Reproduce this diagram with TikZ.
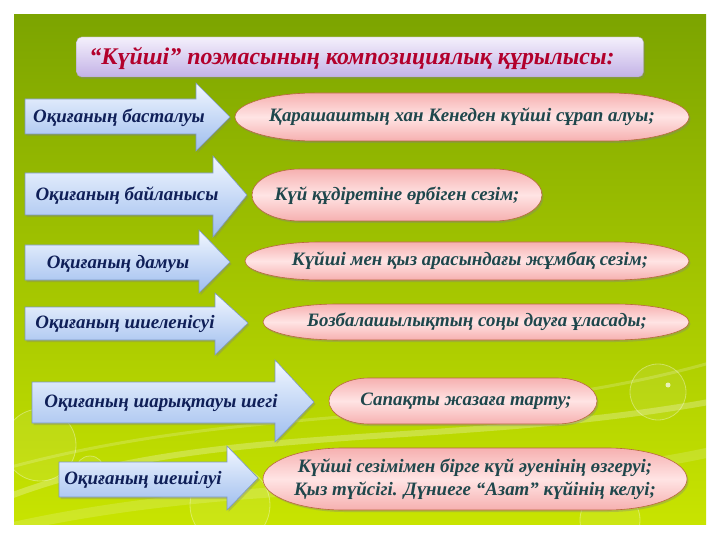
\documentclass[tikz,border=0pt]{standalone}
\usepackage{fontspec}
\setmainfont{Liberation Serif}
\usetikzlibrary{shadows}
\definecolor{bgtop}{HTML}{7CA400}
\definecolor{bgbot}{HTML}{C8E400}
\definecolor{arrtop}{HTML}{F2F7FF}
\definecolor{arrbot}{HTML}{9EBDEE}
\definecolor{arrline}{HTML}{7C98C4}
\definecolor{arrink}{HTML}{0F1F58}
\definecolor{ovedge}{HTML}{F6B0B0}
\definecolor{ovmid}{HTML}{FFE4E4}
\definecolor{ovline}{HTML}{B8683E}
\definecolor{ovink}{HTML}{1F474C}
\definecolor{ttltop}{HTML}{F4F0FC}
\definecolor{ttlbot}{HTML}{C3B2E6}
\definecolor{ttlink}{HTML}{B2002C}
% centre x, centre y, half width, half height, end radius
\newcommand\ovalbox[5]{%
  \draw[oval] ({#1-#3+#5},{#2-#4}) -- ({#1+#3-#5},{#2-#4})
    arc[start angle=-90, end angle=90, x radius=#5, y radius=#4]
    -- ({#1-#3+#5},{#2+#4})
    arc[start angle=90, end angle=270, x radius=#5, y radius=#4] -- cycle;}
\begin{document}
\begin{tikzpicture}[x=1bp, y=-1bp,
  shd/.style={drop shadow={opacity=.35, shadow xshift=1.5bp, shadow yshift=-2bp}},
  arr/.style={draw=arrline, line width=.6bp, top color=arrtop, bottom color=arrbot, shd},
  arrtxt/.style={font=\bfseries\itshape\fontsize{19}{22}\selectfont, text=arrink},
  oval/.style={draw=ovline, line width=.6bp, top color=ovedge, bottom color=ovedge, middle color=ovmid, shd},
  ovtxt/.style={font=\bfseries\itshape\fontsize{19}{23}\selectfont, text=ovink, align=center},
  bubble/.style={draw=white, draw opacity=.35, fill=white, fill opacity=.08, line width=.8bp}]
\useasboundingbox (0,0) rectangle (720,540);
\fill[white] (0,0) rectangle (720,540);
\shade[top color=bgtop, bottom color=bgbot] (14,15) rectangle (706,524);
\begin{scope}
  \clip (14,15) rectangle (706,524);
  \draw[white, opacity=.25, line width=6bp] (0,500) .. controls (200,420) and (450,450) .. (720,400);
  \draw[white, opacity=.18, line width=3bp] (0,470) .. controls (250,400) and (480,430) .. (720,360);
  \draw[white, opacity=.15, line width=10bp] (0,530) .. controls (260,470) and (500,500) .. (720,450);
  \draw[bubble] (40,445) circle (36);
  \draw[bubble] (90,470) circle (14);
  \draw[bubble] (658,392) circle (28);
  \fill[white, opacity=.7] (668,385) circle (2.5);
  \draw[bubble] (230,505) circle (40);
  \draw[bubble] (610,520) circle (30);
\end{scope}
\node[draw=gray!70, rounded corners=5bp, top color=ttltop, bottom color=ttlbot, shd, minimum width=567bp, minimum height=40bp] (ttlbox) at (360,57) {};
\node[font=\bfseries\itshape\fontsize{24}{28}\selectfont, text=ttlink] (ttl) at (352,58) {“Күйші” поэмасының композициялық құрылысы:};
\draw[arr] (25,99) -- (196,99) -- (196,83) -- (230,117) -- (196,151) -- (196,134) -- (25,134) -- cycle;
\draw[arr] (25,173) -- (213,173) -- (213,156) -- (247,195) -- (213,237) -- (213,215) -- (25,215) -- cycle;
\draw[arr] (25,245) -- (199,245) -- (199,230) -- (230,262) -- (199,293) -- (199,280) -- (25,280) -- cycle;
\draw[arr] (25,307) -- (215,307) -- (215,293) -- (248,323) -- (215,355) -- (215,340) -- (25,340) -- cycle;
\draw[arr] (32,382) -- (275,382) -- (275,360) -- (314,402) -- (275,442) -- (275,423) -- (32,423) -- cycle;
\draw[arr] (59,462) -- (227,462) -- (227,446) -- (258,478) -- (227,510) -- (227,497) -- (59,497) -- cycle;
\node[arrtxt] (a1) at (119,118) {Оқиғаның басталуы};
\node[arrtxt] (a2) at (127,196) {Оқиғаның байланысы};
\node[arrtxt] (a3) at (118,264) {Оқиғаның дамуы};
\node[arrtxt] (a4) at (125,324) {Оқиғаның шиеленісуі};
\node[arrtxt] (a5) at (161,403) {Оқиғаның шарықтауы шегі};
\node[arrtxt] (a6) at (143,480) {Оқиғаның шешілуі};
\ovalbox{462}{117}{227}{24}{80}
\ovalbox{397}{195}{145}{26}{48}
\ovalbox{467}{261}{222}{19}{75}
\ovalbox{476}{322}{213}{18}{75}
\ovalbox{463}{401}{134}{23}{40}
\ovalbox{475}{479}{212}{31}{80}
\node[ovtxt] (t1) at (462,117) {Қарашаштың хан Кенеден күйші сұрап алуы;};
\node[ovtxt] (t2) at (397,196) {Күй құдіретіне өрбіген сезім;};
\node[ovtxt] (t3) at (470,261) {Күйші мен қыз арасындағы жұмбақ сезім;};
\node[ovtxt] (t4) at (477,322) {Бозбалашылықтың соңы дауға ұласады;};
\node[ovtxt] (t5) at (466,401) {Сапақты жазаға тарту;};
\node[ovtxt] (t6) at (475,479) {Күйші сезімімен бірге күй әуенінің өзгеруі;\\Қыз түйсігі. Дүниеге “Азат” күйінің келуі;};
\end{tikzpicture}
\end{document}
